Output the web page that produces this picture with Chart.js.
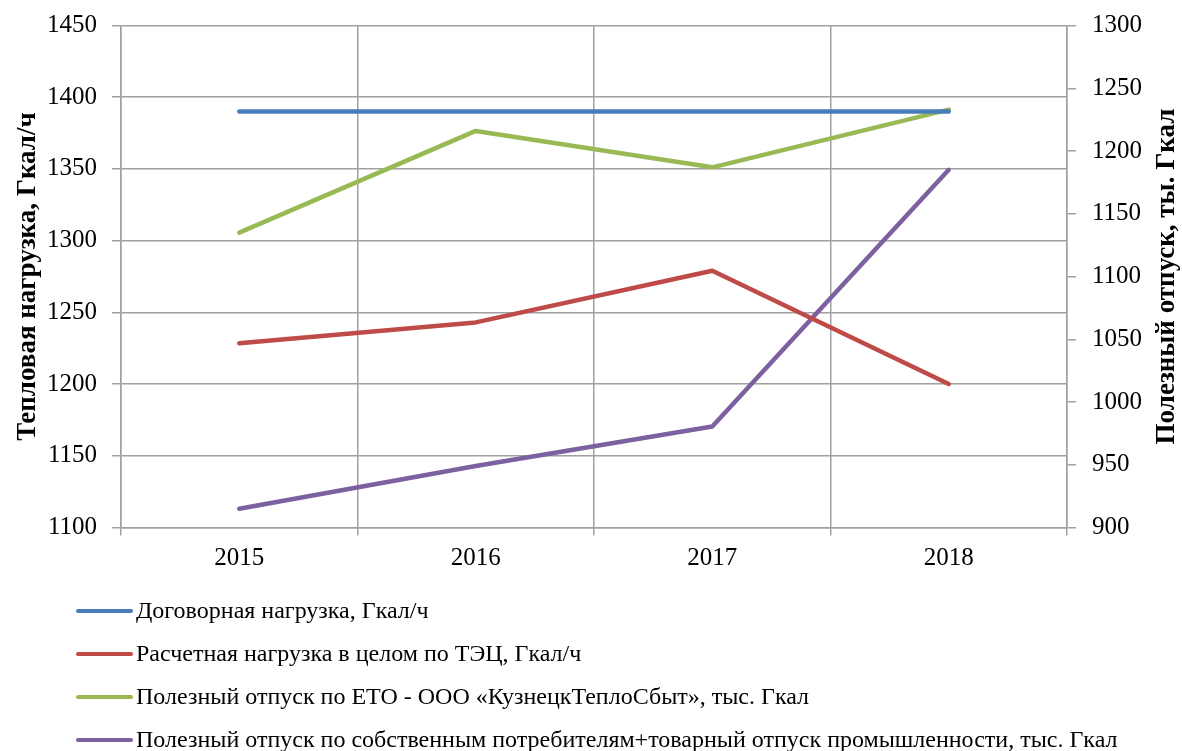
<!DOCTYPE html>
<html>
<head>
<meta charset="utf-8">
<script src="https://cdn.jsdelivr.net/npm/chart.js@4/dist/chart.umd.min.js"></script>
<style>
  html, body { margin: 0; padding: 0; background: #fff; }
  #wrap { width: 1182px; height: 751px; position: relative; }
</style>
</head>
<body>
<div id="wrap"><canvas id="c" width="1182" height="751"></canvas></div>
<script>
const categories = ['2015', '2016', '2017', '2018'];
const contractLoad = [1390, 1390, 1390, 1390];
const calcLoad = [1228.5, 1243, 1279, 1200];
const usefulETO = [1135, 1216, 1187, 1233];
const usefulOwn = [915, 949, 980.5, 1185];

const leftTitle = 'Тепловая нагрузка, Гкал/ч';
const rightTitle = 'Полезный отпуск, ты. Гкал';
const labels = [
  'Договорная нагрузка, Гкал/ч',
  'Расчетная нагрузка в целом по ТЭЦ, Гкал/ч',
  'Полезный отпуск по ЕТО - ООО «КузнецкТеплоСбыт», тыс. Гкал',
  'Полезный отпуск по собственным потребителям+товарный отпуск промышленности, тыс. Гкал'
];
const colors = ['#4a7ebb', '#be4b48', '#98b954', '#7d60a0'];

const FONT = "'Liberation Serif', 'Times New Roman', serif";
const GRID = '#a0a0a0';

const legendPlugin = {
  id: 'vlegend',
  afterDraw(chart) {
    const ctx = chart.ctx;
    ctx.save();
    ctx.font = '24px ' + FONT;
    ctx.textBaseline = 'middle';
    ctx.fillStyle = '#000';
    chart.data.datasets.forEach((ds, i) => {
      const y = 611 + i * 43;
      ctx.strokeStyle = ds.borderColor;
      ctx.lineWidth = 4;
      ctx.lineCap = 'round';
      ctx.beginPath();
      ctx.moveTo(78, y);
      ctx.lineTo(131, y);
      ctx.stroke();
      ctx.fillText(ds.label, 136, y + 1);
    });
    // right axis title, reading bottom-to-top
    const a = chart.chartArea;
    ctx.save();
    ctx.translate(1167, (a.top + a.bottom) / 2);
    ctx.rotate(-Math.PI / 2);
    ctx.textAlign = 'center';
    ctx.textBaseline = 'middle';
    ctx.font = 'bold 27px ' + FONT;
    ctx.fillText(rightTitle, 0, 0);
    ctx.restore();
    ctx.restore();
  }
};

const mk = (i, data, axis) => ({
  label: labels[i], data, yAxisID: axis,
  borderColor: colors[i], backgroundColor: colors[i],
  borderWidth: 4.5, pointRadius: 0, pointHoverRadius: 0,
  borderCapStyle: 'round', borderJoinStyle: 'round', tension: 0, fill: false
});

const plain = v => String(v);
const fitY = w => s => { s.width = w; s.paddingTop = 0; s.paddingBottom = 0; };

new Chart(document.getElementById('c'), {
  type: 'line',
  data: {
    labels: categories,
    datasets: [
      mk(0, contractLoad, 'y'),
      mk(1, calcLoad, 'y'),
      mk(2, usefulETO, 'y1'),
      mk(3, usefulOwn, 'y1')
    ]
  },
  plugins: [legendPlugin],
  options: {
    responsive: false,
    animation: false,
    events: [],
    layout: { padding: { top: 25.5, bottom: 173.5, left: 0, right: 0 } },
    plugins: { legend: { display: false }, tooltip: { enabled: false } },
    scales: {
      x: {
        offset: true,
        grid: { offset: true, color: GRID, lineWidth: 1.5, tickLength: 8, drawTicks: true },
        border: { color: GRID, width: 1.5 },
        ticks: { color: '#000', font: { family: FONT, size: 25 }, padding: 8 },
        afterFit(s) { s.height = 50; }
      },
      y: {
        position: 'left',
        min: 1100, max: 1450,
        ticks: { stepSize: 50, color: '#000', font: { family: FONT, size: 25 }, padding: 15, callback: plain },
        grid: { color: GRID, lineWidth: 1.5, tickLength: 9 },
        border: { color: GRID, width: 1.5 },
        title: { display: true, text: leftTitle, color: '#000',
                 font: { family: FONT, size: 27, weight: 'bold' }, padding: { top: 12, bottom: 0 } },
        afterFit: fitY(121)
      },
      y1: {
        position: 'right',
        min: 900, max: 1300,
        ticks: { stepSize: 50, color: '#000', font: { family: FONT, size: 25 }, padding: 16, callback: plain },
        grid: { drawOnChartArea: false, color: GRID, lineWidth: 1.5, tickLength: 9 },
        border: { color: GRID, width: 1.5 },
        title: { display: false },
        afterFit: fitY(115)
      }
    }
  }
});
</script>
</body>
</html>
